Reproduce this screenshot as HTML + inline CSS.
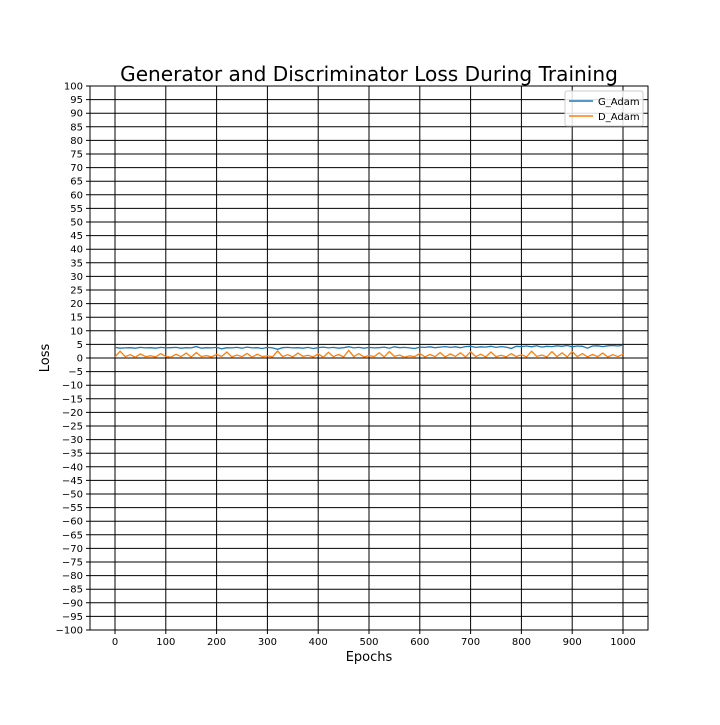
<!DOCTYPE html>
<html><head><meta charset="utf-8"><style>
body{margin:0;background:#fff}
svg text{font-family:"DejaVu Sans","Liberation Sans",sans-serif;fill:#000}
</style></head><body>
<svg id="c" width="720" height="720" xmlns="http://www.w3.org/2000/svg">
<rect width="720" height="720" fill="#fff"/>
<text x="369" y="81" font-size="20.1" text-anchor="middle">Generator and Discriminator Loss During Training</text>
<g id="grid"></g>
<g id="series"></g>
<rect x="90" y="86" width="558" height="544" fill="none" stroke="#000" stroke-width="1"/>
<text x="369" y="661" font-size="13" text-anchor="middle">Epochs</text>
<text x="49" y="358" font-size="13" text-anchor="middle" transform="rotate(-90 49 358)">Loss</text>
<g>
<rect x="565" y="91" width="78" height="35" rx="2" fill="#fff" fill-opacity="0.85" stroke="#ccc"/>
<line x1="569" y1="101" x2="593" y2="101" stroke="#1f77b4" stroke-width="1.5"/>
<text x="598" y="105" font-size="10">G_Adam</text>
<line x1="569" y1="116" x2="593" y2="116" stroke="#ff7f0e" stroke-width="1.5"/>
<text x="598" y="120" font-size="10">D_Adam</text>
</g>
</svg>
<script>
const xTicks=[0,100,200,300,400,500,600,700,800,900,1000];
const yTicks=[];for(let v=100;v>=-100;v-=5)yTicks.push(v);
const epochStep=10;
const gLoss=[3.9,3.6,3.7,3.8,3.6,3.9,3.7,3.8,3.6,3.9,3.7,3.8,3.9,3.6,3.8,3.7,4.2,3.6,3.8,3.7,3.9,3.4,3.8,3.7,3.9,3.6,4.0,3.7,3.8,3.5,3.9,3.7,3.2,3.8,3.9,3.7,3.8,3.6,3.9,3.5,3.8,4.0,3.7,3.9,3.6,3.8,4.1,3.7,3.9,3.6,3.9,3.7,3.8,4.0,3.6,4.1,3.8,3.9,3.7,3.5,4.0,3.9,4.1,3.8,4.0,4.2,3.9,4.1,3.8,4.2,4.3,3.9,4.1,4.0,4.3,3.9,4.2,4.0,3.5,4.3,4.2,4.4,4.1,4.5,4.0,4.3,4.2,4.5,4.3,4.6,4.1,4.4,4.3,3.6,4.4,4.5,4.2,4.5,4.6,4.4,4.7];
const dLoss=[0.4,2.5,0.5,1.2,0.3,1.5,0.5,0.8,0.4,1.6,0.6,0.3,1.4,0.5,1.8,0.4,2.0,0.5,0.9,0.4,1.3,0.6,2.2,0.4,1.1,0.5,1.7,0.3,1.4,0.5,0.8,0.4,2.6,0.5,1.2,0.4,1.8,0.6,1.0,0.4,1.5,0.3,2.1,0.5,1.3,0.4,2.8,0.5,1.6,0.4,0.9,0.5,1.9,0.4,2.4,0.6,1.1,0.3,0.8,0.5,1.7,0.4,1.3,0.5,2.0,0.4,1.5,0.6,1.9,0.4,2.3,0.5,1.4,0.4,2.2,0.5,1.0,0.4,1.6,0.5,1.2,0.4,2.5,0.6,1.1,0.4,2.3,0.5,1.9,0.4,2.4,0.5,1.6,0.4,1.3,0.5,1.8,0.4,1.2,0.5,1.4];
const NS="http://www.w3.org/2000/svg";
const xs=v=>115+v*(623-115)/1000;
const ys=v=>358-v*2.72;
const grid=document.getElementById('grid'),ser=document.getElementById('series');
function mk(t,a,p){const e=document.createElementNS(NS,t);for(const k in a)e.setAttribute(k,a[k]);p.appendChild(e);return e;}
xTicks.forEach(v=>{
 const l=mk('line',{x1:xs(v),x2:xs(v),y1:86,y2:634,stroke:'#000','stroke-width':1},grid);
 
 
 const t=mk('text',{x:xs(v),y:645,'font-size':10,'text-anchor':'middle'},grid);t.textContent=v;
 
 
});
yTicks.forEach(v=>{
 const l=mk('line',{x1:86,x2:648,y1:ys(v),y2:ys(v),stroke:'#000','stroke-width':1},grid);
 
 
 const t=mk('text',{x:83,y:ys(v)+3.5,'font-size':10,'text-anchor':'end'},grid);t.textContent=v<0?'\u2212'+(-v):v;
 
 
});
function line(arr,col,name){
 const pts=arr.map((v,i)=>xs(i*epochStep).toFixed(1)+','+ys(v).toFixed(1)).join(' ');
 const p=mk('polyline',{points:pts,fill:'none',stroke:col,'stroke-width':1.3},ser);
 
 
}
line(gLoss,'#1f77b4','g-adam-line');
line(dLoss,'#ff7f0e','d-adam-line');
</script>
</body></html>
